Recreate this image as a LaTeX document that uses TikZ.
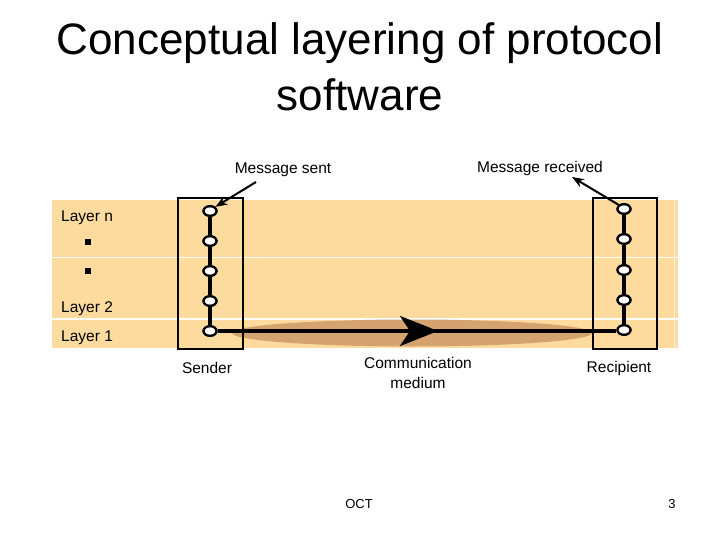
\documentclass[tikz,border=0pt]{standalone}
\usepackage{fontspec}
\setmainfont{Liberation Sans}
\usetikzlibrary{shapes.geometric,arrows.meta}
\definecolor{band}{RGB}{253,219,158}
\definecolor{shadowc}{RGB}{212,163,112}
\begin{document}
\begin{tikzpicture}[x=1pt,y=-1pt,
  lay/.style={ellipse,draw,line width=2.2pt,fill=white,minimum width=13pt,minimum height=9.5pt,inner sep=0pt},
  txt/.style={font=\fontsize{15.5}{18}\selectfont,inner sep=0pt},
  small/.style={font=\fontsize{13}{15}\selectfont,inner sep=0pt},
  stack/.style={line width=4pt},
  frame/.style={draw,line width=2.5pt},
  pointer/.style={line width=2pt,-{Stealth[length=12pt,width=9pt]}}]
\useasboundingbox (0,0) rectangle (720,540);
% title
\node[font=\fontsize{44}{50}\selectfont,inner sep=0pt] (t1) at (360,43) {Conceptual layering of protocol};
\node[font=\fontsize{44}{50}\selectfont,inner sep=0pt] (t2) at (360,95) {software};
% bands
\fill[band] (52,200) rectangle (678,348);
\draw[white,line width=1pt] (52,257.5) -- (678,257.5);
\draw[white,line width=2pt] (52,318.5) -- (678,318.5);
\draw[white,line width=0.8pt,opacity=0.7] (674.5,200) -- (674.5,348);
% shadow
\fill[shadowc] (412,333) ellipse [x radius=180, y radius=13.5];
% labels
\node[txt,anchor=west] (ln) at (61,218) {Layer n};
\node[fill=black,minimum size=6pt,inner sep=0pt] (d1) at (88,242) {};
\node[fill=black,minimum size=6pt,inner sep=0pt] (d2) at (88,271) {};
\node[txt,anchor=west] (l2) at (61,309) {Layer 2};
\node[txt,anchor=west] (l1) at (61,338) {Layer 1};
% frames
\node[frame,minimum width=65pt,minimum height=151pt,inner sep=0pt] (sbox) at (210.5,273.5) {};
\node[frame,minimum width=64pt,minimum height=151pt,inner sep=0pt] (rbox) at (625,273.5) {};
% sender stack
\node[lay] (s1) at (210,211) {};
\node[lay] (s2) at (210,241) {};
\node[lay] (s3) at (210,271) {};
\node[lay] (s4) at (210,301) {};
\node[lay] (s5) at (210,331) {};
% recipient stack
\node[lay] (r1) at (624,209) {};
\node[lay] (r2) at (624,239) {};
\node[lay] (r3) at (624,270) {};
\node[lay] (r4) at (624,300) {};
\node[lay] (r5) at (624,330) {};
\begin{scope}[on background layer/.style={}]
\end{scope}
\draw[stack] (s1) -- (s2) -- (s3) -- (s4) -- (s5);
\draw[stack] (r1) -- (r2) -- (r3) -- (r4) -- (r5);
\coordinate (mid) at (438,331);
\draw[stack] (s5.east) -- (r5.west |- s5.east);
\draw[line width=4pt,-{Stealth[length=38pt,width=30pt,inset=10pt]}] (s5.east) -- (mid);
% redraw nodes on top
\foreach \n/\x/\y in {s1/210/211,s2/210/241,s3/210/271,s4/210/301,s5/210/331,r1/624/209,r2/624/239,r3/624/270,r4/624/300,r5/624/330}
  \node[lay] at (\x,\y) {};
% message labels
\node[txt] (ms) at (283,170) {Message sent};
\node[txt] (mr) at (540,168) {Message received};
\coordinate (msa) at (256,182);
\coordinate (mra) at (572,177);
\draw[pointer] (msa) -- (s1.north east);
\draw[pointer] (r1.north west) -- (mra);
% bottom labels
\node[txt] (snd) at (207,368) {Sender};
\node[txt,align=center,font=\fontsize{15.5}{20}\selectfont] (cm) at (418,373) {Communication\\medium};
\node[txt] (rcp) at (619,368) {Recipient};
\node[small] (oct) at (359,504) {OCT};
\node[small] (pg) at (672,504) {3};
\end{tikzpicture}
\end{document}
